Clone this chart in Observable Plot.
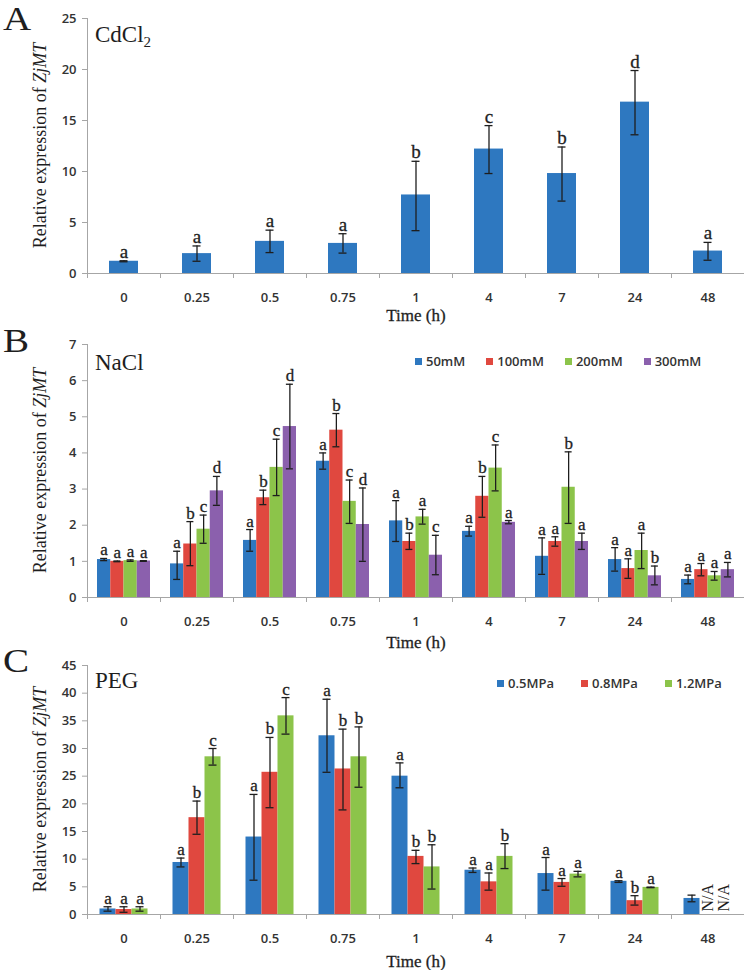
<!DOCTYPE html>
<html>
<head>
<meta charset="utf-8">
<script src="https://cdn.jsdelivr.net/npm/d3@7"></script>
<script src="https://cdn.jsdelivr.net/npm/@observablehq/plot@0.6"></script>
<style>
  body { margin: 0; background: #fff; }
  #root { width: 745px; }
  .panel { position: relative; width: 745px; }
  .panel svg { display: block; overflow: visible; }
  .panel svg g[aria-label="y-axis tick"], .panel svg g[aria-label="x-axis tick"] { stroke: #a6a6a6; }
  .legend { position: absolute; display: flex; align-items: center; font-family: 'Open Sans', sans-serif; font-size: 13px; font-weight: 600; color: #333; white-space: nowrap; }
  .legend .item { display: flex; align-items: center; }
  .legend .sw { width: 7px; height: 7px; margin-right: 4px; }
</style>
</head>
<body>
<div id="root"></div>
<script>
// ---------- data ----------
const times = ["0", "0.25", "0.5", "0.75", "1", "4", "7", "24", "48"];

// Panel A: CdCl2
const cdSeries = ["CdCl2"];
const cdColors = ["#2e78c0"];
const cdMean = [[1.2, 1.95, 3.15, 2.95, 7.7, 12.2, 9.8, 16.8, 2.2]];
const cdLow = [[1.15, 1.2, 2.05, 2.0, 4.2, 9.8, 7.1, 13.6, 1.3]];
const cdHigh = [[1.25, 2.7, 4.25, 3.9, 11.0, 14.5, 12.4, 19.9, 3.05]];
const cdLetters = [["a", "a", "a", "a", "b", "c", "b", "d", "a"]];

// Panel B: NaCl
const naSeries = ["50mM", "100mM", "200mM", "300mM"];
const naColors = ["#2e78c0", "#e0483f", "#8cc44a", "#8b60ad"];
const naMean = [
  [1.05, 0.93, 1.58, 3.77, 2.12, 1.83, 1.14, 1.05, 0.50],
  [1.00, 1.48, 2.76, 4.63, 1.55, 2.80, 1.55, 0.80, 0.77],
  [1.02, 1.89, 3.60, 2.66, 2.23, 3.58, 3.05, 1.30, 0.60],
  [1.01, 2.95, 4.73, 2.02, 1.17, 2.08, 1.55, 0.60, 0.77]
];
const naLow = [
  [1.02, 0.50, 1.28, 3.55, 1.55, 1.70, 0.64, 0.73, 0.38],
  [0.99, 0.88, 2.57, 4.17, 1.33, 2.22, 1.42, 0.53, 0.60],
  [1.00, 1.50, 2.82, 2.05, 2.03, 2.95, 2.05, 0.80, 0.48],
  [1.00, 2.55, 3.56, 1.00, 0.63, 2.04, 1.33, 0.35, 0.57]
];
const naHigh = [
  [1.08, 1.28, 1.88, 4.00, 2.68, 1.97, 1.65, 1.38, 0.62],
  [1.01, 2.10, 2.97, 5.09, 1.78, 3.35, 1.68, 1.07, 0.94],
  [1.04, 2.28, 4.38, 3.25, 2.44, 4.22, 4.03, 1.78, 0.72],
  [1.02, 3.35, 5.90, 3.03, 1.72, 2.13, 1.78, 0.87, 0.97]
];
const naLetters = [
  ["a", "a", "a", "a", "a", "a", "a", "a", "a"],
  ["a", "b", "b", "b", "b", "b", "a", "a", "a"],
  ["a", "c", "c", "c", "a", "c", "b", "a", "a"],
  ["a", "d", "d", "d", "c", "a", "a", "b", "a"]
];

// Panel C: PEG
const pegSeries = ["0.5MPa", "0.8MPa", "1.2MPa"];
const pegColors = ["#2e78c0", "#e0483f", "#8cc44a"];
const pegMean = [
  [1.0, 9.4, 14.0, 32.3, 25.0, 8.0, 7.4, 6.0, 2.9],
  [0.9, 17.5, 25.7, 26.3, 10.5, 5.9, 5.8, 2.5, null],
  [1.0, 28.5, 35.9, 28.5, 8.6, 10.5, 7.3, 4.9, null]
];
const pegLow = [
  [0.6, 8.6, 6.2, 25.7, 22.9, 7.6, 4.4, 5.8, 2.3],
  [0.4, 14.5, 19.3, 18.9, 9.2, 4.4, 5.1, 1.7, null],
  [0.6, 27.0, 32.6, 23.0, 4.6, 8.3, 6.8, 4.85, null]
];
const pegHigh = [
  [1.4, 10.2, 21.7, 38.9, 27.4, 8.4, 10.3, 6.1, 3.5],
  [1.4, 20.5, 32.0, 33.5, 11.6, 7.5, 6.5, 3.4, null],
  [1.4, 30.0, 39.2, 33.9, 12.6, 12.8, 7.8, 4.95, null]
];
const pegLetters = [
  ["a", "a", "a", "a", "a", "a", "a", "a", ""],
  ["a", "b", "b", "b", "b", "a", "a", "b", "N/A"],
  ["a", "c", "c", "b", "b", "b", "a", "a", "N/A"]
];

// ---------- drawing ----------
const W = 745, ML = 87, MR = 1;
const SERIF = "'Liberation Serif', 'Times New Roman', serif";
const SANS = "'Open Sans', sans-serif";
const INK = "#1e1e1e";

function panel(cfg) {
  const bw = (W - ML - MR) / times.length;
  const n = cfg.series.length;
  const barW = cfg.groupW / n;
  const marks = [];
  cfg.series.forEach((s, j) => {
    const rows = times.map((t, i) => ({
      time: t, series: s,
      mean: cfg.mean[j][i], lo: cfg.low[j][i], hi: cfg.high[j][i],
      letter: cfg.letters[j][i]
    }));
    const present = rows.filter(d => d.mean != null);
    const missing = rows.filter(d => d.mean == null);
    const iL = (bw - cfg.groupW) / 2 + j * barW;
    const iR = bw - iL - barW;
    const off = iL + barW / 2 - bw / 2;
    const cap = (barW - cfg.capW) / 2;
    marks.push(
      Plot.barY(present, {x: "time", y: "mean", fill: cfg.colors[j], insetLeft: iL, insetRight: iR}),
      Plot.ruleX(present, {x: "time", y1: "lo", y2: "hi", dx: off, stroke: INK, strokeWidth: 1.3}),
      Plot.tickY(present, {x: "time", y: "lo", insetLeft: iL + cap, insetRight: iR + cap, stroke: INK, strokeWidth: 1.3}),
      Plot.tickY(present, {x: "time", y: "hi", insetLeft: iL + cap, insetRight: iR + cap, stroke: INK, strokeWidth: 1.3}),
      Plot.text(present, {x: "time", y: "hi", text: "letter", dx: off, dy: -3, lineAnchor: "bottom",
        fontFamily: SERIF, fontSize: cfg.letterSize, fill: INK, stroke: INK, strokeWidth: 0.3}),
      Plot.text(missing, {x: "time", y: () => 0, text: "letter", dx: off, dy: -3, rotate: -90,
        textAnchor: "start", lineAnchor: "middle", fontFamily: SERIF, fontSize: 16, fill: INK})
    );
  });

  const yTicks = d3.range(0, cfg.yMax + 1e-9, cfg.yStep);
  const plot = Plot.plot({
    width: W, height: cfg.height,
    marginLeft: ML, marginRight: MR, marginTop: cfg.mt, marginBottom: cfg.mb,
    style: {fontFamily: SANS, fontSize: "13px", color: "#333", background: "transparent", overflow: "visible"},
    x: {domain: times, padding: 0},
    y: {domain: [0, cfg.yMax]},
    marks: [
      ...marks,
      Plot.ruleY([0], {stroke: "#a6a6a6"}),
      Plot.ruleX([times[0]], {x: d => d, y1: 0, y2: cfg.yMax, dx: -bw / 2, stroke: "#a6a6a6"}),
      Plot.axisY({ticks: yTicks, tickFormat: d3.format("d"), tickSize: 5, tickPadding: 6, label: null, fontWeight: 600}),
      Plot.axisX({tickSize: 0, tickPadding: 19, label: null, fontWeight: 600}),
      Plot.axisX({tickSize: 5, tickFormat: () => "", dx: -bw / 2, label: null}),
      Plot.text(["Time (h)"], {frameAnchor: "bottom", dy: cfg.timeDy, lineAnchor: "middle",
        fontFamily: SERIF, fontSize: 17, fill: INK, stroke: INK, strokeWidth: 0.3})
    ]
  });

  const svg = d3.select(plot);
  // panel letter
  svg.append("text").attr("x", 3).attr("y", cfg.letterY)
    .attr("text-anchor", "start")
    .attr("font-family", SERIF).attr("font-size", 34).attr("fill", INK)
    .attr("transform", `translate(3,0) scale(1.15,1) translate(-3,0)`)
    .text(cfg.letter);
  // treatment label
  const tl = svg.append("text").attr("x", 95).attr("y", cfg.treatY)
    .attr("text-anchor", "start")
    .attr("font-family", SERIF).attr("font-size", 23).attr("fill", INK);
  tl.append("tspan").text(cfg.treatment);
  if (cfg.sub) tl.append("tspan").attr("font-size", 15).attr("dy", 5).text(cfg.sub);
  // y title
  const cy = (cfg.mt + cfg.height - cfg.mb) / 2;
  const yt = svg.append("text").attr("transform", `translate(46,${cy}) rotate(-90)`)
    .attr("text-anchor", "middle").attr("font-family", SERIF).attr("font-size", 18).attr("fill", INK);
  yt.append("tspan").text("Relative expression of ");
  yt.append("tspan").attr("font-style", "italic").text("ZjMT");

  const wrap = document.createElement("div");
  wrap.className = "panel";
  wrap.style.height = cfg.height + "px";
  wrap.appendChild(plot);

  if (cfg.legend) {
    const lg = document.createElement("div");
    lg.className = "legend";
    lg.style.left = cfg.legend.x + "px";
    lg.style.top = (cfg.legend.y - 9) + "px";
    lg.style.height = "18px";
    cfg.series.forEach((s, j) => {
      const it = document.createElement("div");
      it.className = "item";
      if (j < cfg.series.length - 1) it.style.marginRight = cfg.legend.gap + "px";
      const sw = document.createElement("span");
      sw.className = "sw";
      sw.style.background = cfg.colors[j];
      const tx = document.createElement("span");
      tx.textContent = s;
      it.appendChild(sw); it.appendChild(tx);
      lg.appendChild(it);
    });
    wrap.appendChild(lg);
  }
  document.getElementById("root").appendChild(wrap);
}

panel({
  height: 318, mt: 18, mb: 45, yMax: 25, yStep: 5,
  series: cdSeries, colors: cdColors, mean: cdMean, low: cdLow, high: cdHigh, letters: cdLetters,
  groupW: 29, capW: 8, letterSize: 19,
  letter: "A", letterY: 30, treatment: "CdCl", sub: "2", treatY: 42, timeDy: 42
});

panel({
  height: 322, mt: 26, mb: 43, yMax: 7, yStep: 1,
  series: naSeries, colors: naColors, mean: naMean, low: naLow, high: naHigh, letters: naLetters,
  groupW: 53, capW: 7, letterSize: 17,
  letter: "B", letterY: 34, treatment: "NaCl", treatY: 52, timeDy: 45,
  legend: {x: 415, y: 43, gap: 21}
});

panel({
  height: 330, mt: 25, mb: 56, yMax: 45, yStep: 5,
  series: pegSeries, colors: pegColors, mean: pegMean, low: pegLow, high: pegHigh, letters: pegLetters,
  groupW: 48, capW: 8, letterSize: 17,
  letter: "C", letterY: 32, treatment: "PEG", treatY: 48, timeDy: 47,
  legend: {x: 497, y: 43, gap: 27}
});
</script>
</body>
</html>
